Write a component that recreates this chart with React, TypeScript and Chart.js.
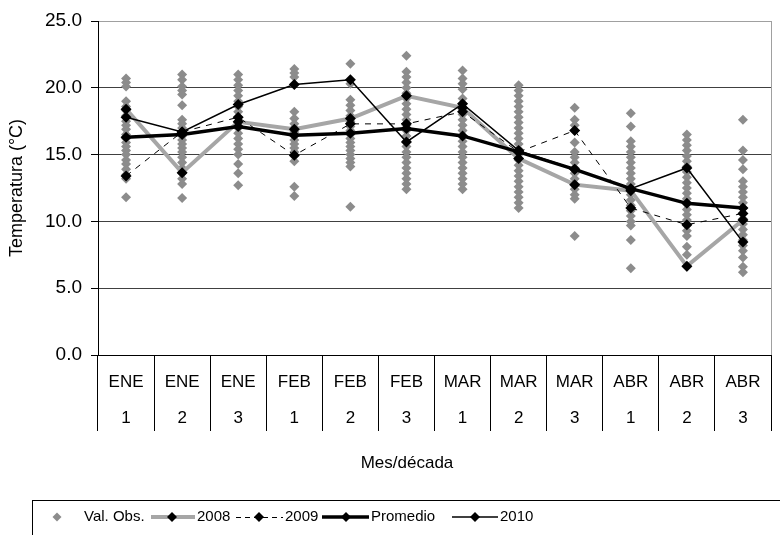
import React, { useEffect, useRef } from "react";
import { Chart, registerables } from "chart.js";

Chart.register(...registerables);

// ---- data ----
const months = ["ENE", "ENE", "ENE", "FEB", "FEB", "FEB", "MAR", "MAR", "MAR", "ABR", "ABR", "ABR"];
const decades = ["1", "2", "3", "1", "2", "3", "1", "2", "3", "1", "2", "3"];

const promedio = [16.3, 16.5, 17.1, 16.45, 16.6, 16.95, 16.4, 15.2, 13.9, 12.45, 11.35, 11.0];
const serie2008 = [18.4, 13.65, 17.45, 16.9, 17.7, 19.4, 18.5, 14.7, 12.75, 12.3, 6.65, 10.1];
const serie2009 = [13.4, 16.7, 17.8, 14.95, 17.3, 17.3, 18.2, 15.2, 16.8, 11.0, 9.75, 10.6];
const serie2010 = [17.8, 16.7, 18.75, 20.25, 20.6, 15.95, 18.8, 15.3, 13.9, 12.45, 14.0, 8.45];

const obsENE1 = [20.7, 20.4, 20.1, 19.0, 18.6, 18.3, 17.9, 17.5, 17.2, 16.9, 16.5, 16.2, 15.9, 15.6, 15.3, 15.0, 14.6, 14.3, 13.9, 13.5, 13.2, 11.8];
const obsENE2 = [21.0, 20.6, 20.1, 19.8, 19.5, 18.7, 17.6, 17.3, 17.0, 16.7, 16.4, 16.1, 15.8, 15.5, 15.2, 14.8, 14.4, 14.0, 13.6, 13.2, 12.8, 11.75];
const obsENE3 = [21.0, 20.6, 20.2, 19.8, 19.4, 19.0, 18.6, 18.2, 17.8, 17.4, 17.0, 16.6, 16.2, 15.8, 15.4, 15.0, 14.3, 13.6, 12.7];
const obsFEB1 = [21.4, 21.1, 20.8, 18.2, 17.7, 17.3, 17.0, 16.7, 16.4, 16.1, 15.8, 15.5, 15.2, 14.9, 14.5, 12.6, 11.9];
const obsFEB2 = [21.8, 20.3, 19.1, 18.7, 18.3, 17.9, 17.5, 17.1, 16.8, 16.5, 16.2, 15.9, 15.6, 15.3, 15.0, 14.7, 14.4, 14.1, 11.1];
const obsFEB3 = [22.4, 21.2, 20.8, 20.4, 20.0, 19.6, 19.2, 18.8, 18.4, 18.0, 17.6, 17.2, 16.8, 16.4, 16.0, 15.6, 15.2, 14.8, 14.4, 14.0, 13.6, 13.2, 12.8, 12.4];
const obsMAR1 = [21.3, 20.7, 20.3, 19.9, 19.2, 18.8, 18.4, 18.0, 17.6, 17.2, 16.8, 16.4, 16.0, 15.6, 15.2, 14.8, 14.4, 14.0, 13.6, 13.2, 12.8, 12.4];
const obsMAR2 = [20.2, 19.8, 19.4, 19.0, 18.6, 18.2, 17.8, 17.4, 17.0, 16.6, 16.2, 15.8, 15.4, 15.0, 14.6, 14.2, 13.8, 13.4, 13.0, 12.6, 12.2, 11.8, 11.4, 11.0];
const obsMAR3 = [18.5, 17.6, 17.2, 16.8, 15.9, 15.2, 14.8, 14.4, 14.0, 13.6, 13.2, 12.8, 12.4, 12.0, 11.7, 8.9];
const obsABR1 = [18.1, 17.1, 16.0, 15.6, 15.2, 14.8, 14.4, 14.0, 13.6, 13.2, 12.8, 12.4, 12.0, 11.6, 11.2, 10.8, 10.4, 10.0, 9.7, 8.6, 6.5];
const obsABR2 = [16.5, 16.1, 15.7, 15.3, 14.9, 14.5, 14.1, 13.7, 13.3, 12.9, 12.5, 12.1, 11.7, 11.3, 10.9, 10.5, 10.1, 9.7, 9.3, 8.9, 8.1, 7.5, 6.6];
const obsABR3 = [17.6, 15.3, 14.6, 13.9, 13.0, 12.6, 12.2, 11.8, 11.4, 11.0, 10.6, 10.2, 9.8, 9.4, 9.0, 8.6, 8.2, 7.8, 7.3, 6.6, 6.2];

const observed = [obsENE1, obsENE2, obsENE3, obsFEB1, obsFEB2, obsFEB3, obsMAR1, obsMAR2, obsMAR3, obsABR1, obsABR2, obsABR3];

const yMin = 0;
const yMax = 25;
const yStep = 5;

const FONT = '"Liberation Sans", Arial, sans-serif';
const OBS_COLOR = "#8c8c8c";
const GRAY_LINE = "#a6a6a6";

function diamond(ctx: CanvasRenderingContext2D, x: number, y: number, r: number, color: string) {
  ctx.save();
  ctx.fillStyle = color;
  ctx.beginPath();
  ctx.moveTo(x, y - r);
  ctx.lineTo(x + r, y);
  ctx.lineTo(x, y + r);
  ctx.lineTo(x - r, y);
  ctx.closePath();
  ctx.fill();
  ctx.restore();
}

const extrasPlugin = {
  id: "extras",
  afterDraw(chart: any) {
    const { ctx, chartArea } = chart;
    ctx.save();
    // right border of plot area
    ctx.strokeStyle = "#a0a0a0";
    ctx.lineWidth = 1;
    ctx.beginPath();
    ctx.moveTo(Math.round(chartArea.right) + 0.5, chartArea.top);
    ctx.lineTo(Math.round(chartArea.right) + 0.5, chartArea.bottom);
    ctx.stroke();

    // x axis title
    ctx.font = `17px ${FONT}`;
    ctx.fillStyle = "#000";
    ctx.textBaseline = "middle";
    ctx.textAlign = "center";
    ctx.fillText("Mes/década", 407, 463);

    // legend box
    const cy = 517;
    ctx.strokeStyle = "#000";
    ctx.lineWidth = 1;
    ctx.strokeRect(32.5, 500.5, 800, 100);
    ctx.font = `15px ${FONT}`;
    ctx.textAlign = "left";

    // Val. Obs.
    diamond(ctx, 57, cy, 4.5, OBS_COLOR);
    ctx.fillText("Val. Obs.", 84, cy);

    // 2008
    ctx.strokeStyle = GRAY_LINE;
    ctx.lineWidth = 4;
    ctx.beginPath();
    ctx.moveTo(151, cy);
    ctx.lineTo(195, cy);
    ctx.stroke();
    diamond(ctx, 172, cy, 5, "#000");
    ctx.fillText("2008", 197, cy);

    // 2009
    ctx.strokeStyle = "#000";
    ctx.lineWidth = 1;
    ctx.setLineDash([5, 4]);
    ctx.beginPath();
    ctx.moveTo(236, cy + 0.5);
    ctx.lineTo(283, cy + 0.5);
    ctx.stroke();
    ctx.setLineDash([]);
    diamond(ctx, 259, cy, 5, "#000");
    ctx.fillText("2009", 285, cy);

    // Promedio
    ctx.lineWidth = 3.5;
    ctx.beginPath();
    ctx.moveTo(322, cy);
    ctx.lineTo(369, cy);
    ctx.stroke();
    diamond(ctx, 346, cy, 5, "#000");
    ctx.fillText("Promedio", 371, cy);

    // 2010
    ctx.lineWidth = 1.5;
    ctx.beginPath();
    ctx.moveTo(452, cy);
    ctx.lineTo(498, cy);
    ctx.stroke();
    diamond(ctx, 475, cy, 5, "#000");
    ctx.fillText("2010", 500, cy);
    ctx.restore();
  },
};

export default function App() {
  const canvasRef = useRef<HTMLCanvasElement | null>(null);

  useEffect(() => {
    document.body.style.margin = "0";
    const canvas = canvasRef.current;
    if (!canvas) return;

    const keys = months.map((m, i) => m + decades[i]);
    const obsPoints = observed.flatMap((vals, i) => vals.map((v) => ({ x: keys[i], y: v })));

    const markerStyle = {
      pointStyle: "rectRot" as const,
      pointRadius: 5.5,
      pointBackgroundColor: "#000",
      pointBorderColor: "#000",
      pointBorderWidth: 0,
      tension: 0,
    };

    const chart = new Chart(canvas, {
      type: "line",
      data: {
        labels: keys,
        datasets: [
          {
            label: "Val. Obs.",
            data: obsPoints as any,
            showLine: false,
            pointStyle: "rectRot",
            pointRadius: 5,
            pointBackgroundColor: OBS_COLOR,
            pointBorderColor: OBS_COLOR,
            pointBorderWidth: 0,
            order: 10,
          },
          {
            label: "2008",
            data: serie2008,
            borderColor: GRAY_LINE,
            borderWidth: 4,
            ...markerStyle,
            order: 4,
          },
          {
            label: "2009",
            data: serie2009,
            borderColor: "#000",
            borderWidth: 1,
            borderDash: [6, 6],
            ...markerStyle,
            order: 3,
          },
          {
            label: "Promedio",
            data: promedio,
            borderColor: "#000",
            borderWidth: 3.5,
            ...markerStyle,
            order: 2,
          },
          {
            label: "2010",
            data: serie2010,
            borderColor: "#000",
            borderWidth: 1.5,
            ...markerStyle,
            order: 1,
          },
        ],
      },
      options: {
        responsive: false,
        animation: false,
        layout: { padding: { top: 21, right: 9, bottom: 61.8, left: 0 } },
        plugins: {
          legend: { display: false },
          tooltip: { enabled: false },
        },
        scales: {
          x: {
            type: "category",
            offset: true,
            afterFit: (scale: any) => {
              scale.height = 118.2;
            },
            grid: {
              offset: true,
              drawOnChartArea: false,
              drawTicks: true,
              tickLength: 76,
              color: "#000",
              lineWidth: 1,
            },
            border: { display: true, color: "#000", width: 1 },
            ticks: {
              padding: -67,
              color: "#000",
              maxRotation: 0,
              autoSkip: false,
              font: { family: FONT, size: 17, lineHeight: "36px" as any },
              callback: (_v: any, i: number) => [months[i], decades[i]],
            },
            title: { display: false },
          },
          y: {
            min: yMin,
            max: yMax,
            afterFit: (scale: any) => {
              scale.width = 98;
            },
            ticks: {
              stepSize: yStep,
              color: "#000",
              padding: 9,
              font: { family: FONT, size: 19 },
              callback: (v: any) => Number(v).toFixed(1),
            },
            grid: {
              color: (c: any) => (c.tick && c.tick.value === yMax ? "#a0a0a0" : "#404040"),
              tickColor: "#000",
              tickLength: 7,
              drawTicks: true,
              lineWidth: 1,
            },
            border: { display: true, color: "#000", width: 1 },
            title: {
              display: true,
              text: "Temperatura (°C)",
              color: "#000",
              font: { family: FONT, size: 18 },
              padding: { top: 6, bottom: 0 },
            },
          },
        },
      },
      plugins: [extrasPlugin],
    });

    return () => {
      chart.destroy();
    };
  }, []);

  return (
    <div style={{ width: 780, height: 535 }}>
      <canvas ref={canvasRef} width={780} height={535} />
    </div>
  );
}
